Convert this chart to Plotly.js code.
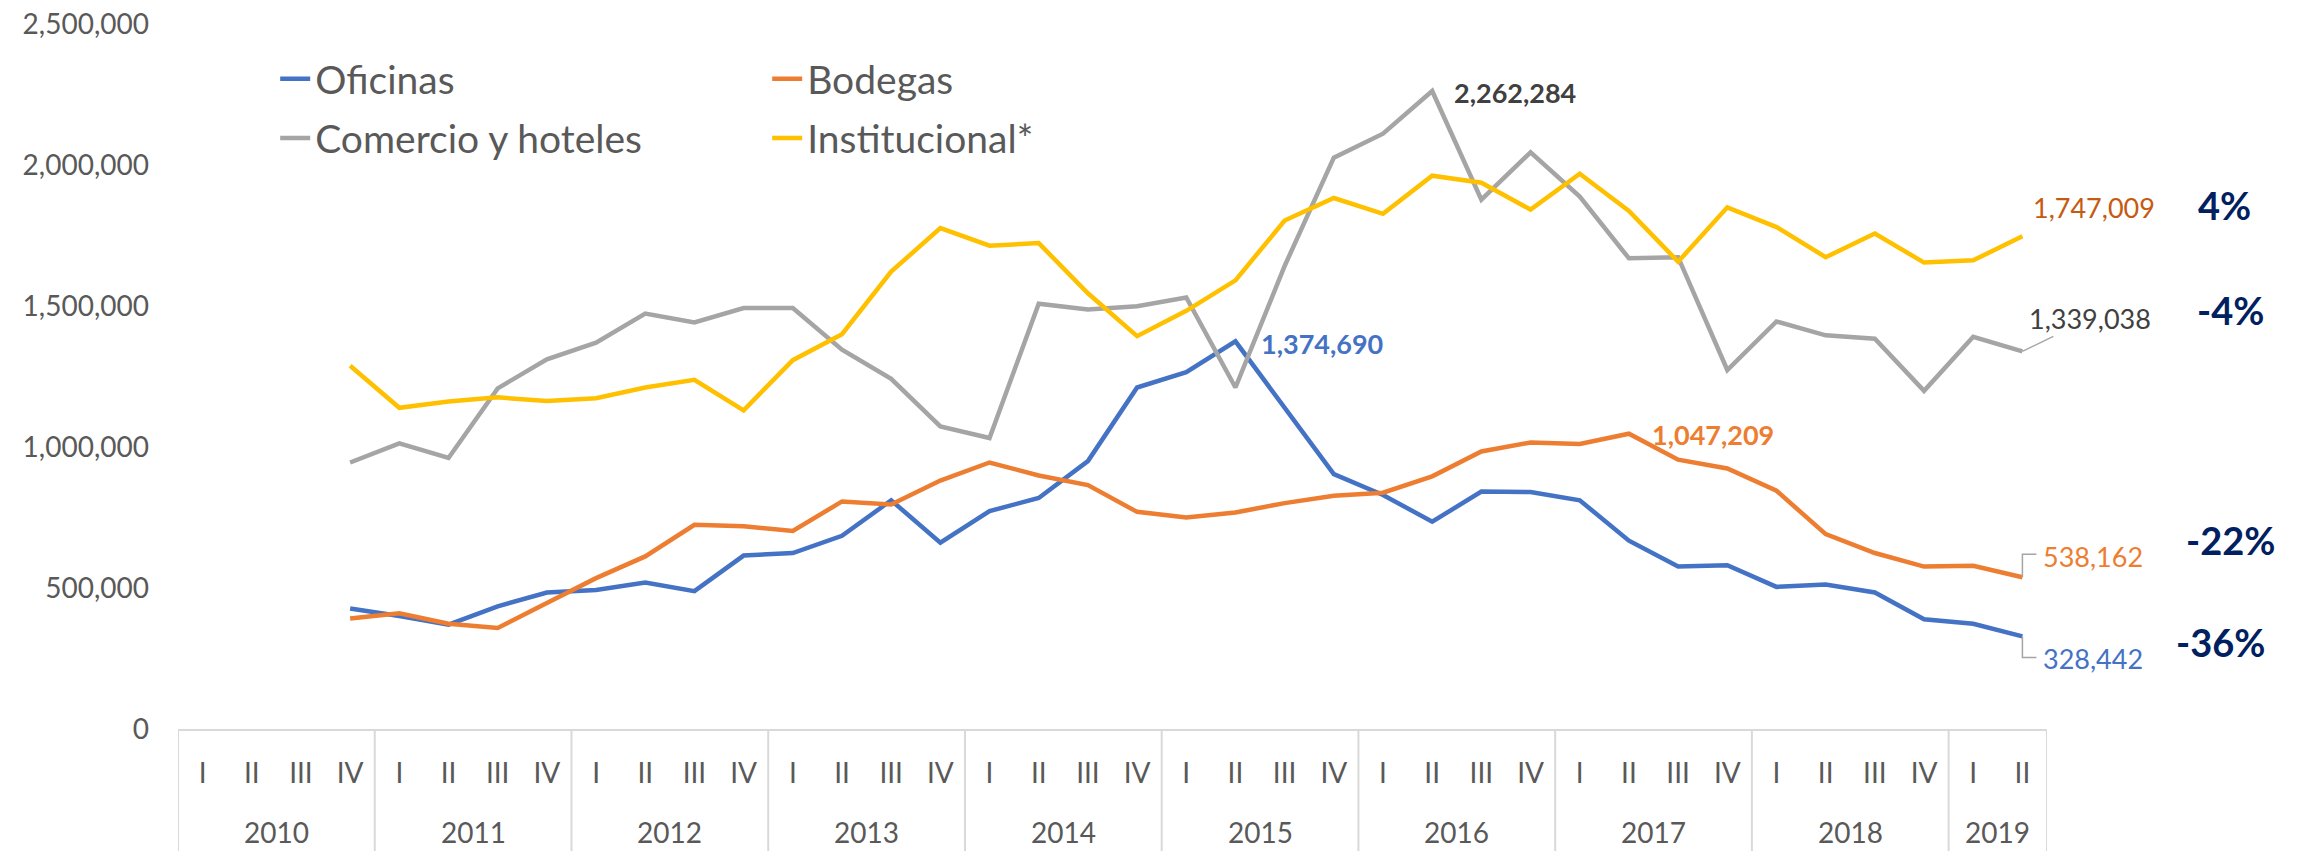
<!DOCTYPE html>
<html>
<head>
<meta charset="utf-8">
<script src="https://cdn.plot.ly/plotly-3.0.1.min.js"></script>
<style>
  html, body { margin: 0; padding: 0; background: #ffffff; }
  #chart { width: 2305px; height: 851px; }
</style>
</head>
<body>
<div id="chart"></div>
<script>
// ---- Data ----
const yearLabels = ['2010','2011','2012','2013','2014','2015','2016','2017','2018','2019'];
const quarterLabels = ['I','II','III','IV'];

const oficinas = [null, null, null, 427000, 401000, 370000, 435000, 484000, 493000, 519000,
  489000, 615000, 624000, 685000, 811000, 661000, 773000, 819000, 950000, 1211000,
  1265000, 1374690, 1142000, 904000, 830000, 735000, 842000, 840000, 811000, 668000,
  576000, 581000, 504000, 512000, 484000, 389000, 373000, 328442];

const bodegas = [null, null, null, 392000, 410000, 373000, 358000, 447000, 535000, 612000,
  724000, 719000, 702000, 807000, 796000, 881000, 945000, 899000, 865000, 770000,
  750000, 768000, 801000, 827000, 838000, 896000, 984000, 1016000, 1011000, 1047209,
  955000, 924000, 845000, 691000, 624000, 576000, 579000, 538162];

const comercio = [null, null, null, 945000, 1013000, 961000, 1208000, 1311000, 1370000, 1473000,
  1442000, 1493000, 1493000, 1345000, 1242000, 1073000, 1032000, 1508000, 1488000, 1499000,
  1530000, 1211000, 1642000, 2026000, 2111000, 2262284, 1877000, 2045000, 1888000, 1669000,
  1673000, 1273000, 1445000, 1396000, 1384000, 1199000, 1391000, 1339038];

const institucional = [null, null, null, 1288000, 1139000, 1161000, 1176000, 1163000, 1173000, 1211000,
  1238000, 1130000, 1308000, 1400000, 1622000, 1776000, 1714000, 1723000, 1545000, 1393000,
  1483000, 1591000, 1803000, 1883000, 1827000, 1962000, 1937000, 1842000, 1969000, 1837000,
  1657000, 1850000, 1780000, 1673000, 1757000, 1654000, 1662000, 1747009];

const seriesNames = ['Oficinas', 'Bodegas', 'Comercio y hoteles', 'Institucional*'];
const pctLabels = ['-36%', '-22%', '-4%', '4%'];   // same order as seriesNames

// ---- Periods: quarter within year ----
const nPeriods = oficinas.length;
const xIdx = [], xYears = [], xQuarters = [];
for (let i = 0; i < nPeriods; i++) {
  xIdx.push(i);
  xYears.push(yearLabels[Math.floor(i / 4)]);
  xQuarters.push(quarterLabels[i % 4]);
}

const FONT = 'Lato, Carlito, "Open Sans", sans-serif';
const colors = ['#4472C4', '#ED7D31', '#A5A5A5', '#FFC000'];
const allSeries = [oficinas, bodegas, comercio, institucional];
const legendOf = ['legend', 'legend', 'legend2', 'legend2'];

const traces = allSeries.map((s, k) => ({
  type: 'scatter',
  mode: 'lines',
  name: seriesNames[k],
  x: xIdx,
  y: s,
  line: { color: colors[k], width: 4.5 },
  legend: legendOf[k],
  hoverinfo: 'skip'
}));

const fmt = v => v.toLocaleString('en-US');
const argMax = s => s.reduce((bi, v, i) => (v !== null && (s[bi] === null || v > s[bi]) ? i : bi), 0);
const last = nPeriods - 1;

const annotations = [];
const shapes = [];

// Year group labels and dividers (second level of the category axis)
const AXIS_GRAY = '#D9D9D9';
let start = 0;
for (let i = 1; i <= nPeriods; i++) {
  if (i === nPeriods || xYears[i] !== xYears[start]) {
    annotations.push({ x: (start + i - 1) / 2, y: -0.146, xref: 'x', yref: 'paper',
      text: xYears[start], showarrow: false, xanchor: 'center', yanchor: 'middle',
      font: { family: FONT, size: 28, color: '#595959' } });
    start = i;
  }
}
for (let i = 0; i <= nPeriods; i++) {
  if (i === 0 || i === nPeriods || xYears[i] !== xYears[i - 1]) {
    shapes.push({ type: 'line', xref: 'x', yref: 'paper', x0: i - 0.5, x1: i - 0.5,
      y0: 0, y1: -0.175, line: { color: AXIS_GRAY, width: 2 } });
  }
}

// Peak labels
const ic = argMax(comercio), io = argMax(oficinas), ib = argMax(bodegas);
annotations.push({ x: ic, y: comercio[ic], xref: 'x', yref: 'y',
  text: fmt(comercio[ic]), showarrow: false, xanchor: 'left', xshift: 20, yshift: -1,
  font: { family: FONT, size: 27, color: '#404040', weight: 'bold' } });
annotations.push({ x: io, y: oficinas[io], xref: 'x', yref: 'y',
  text: fmt(oficinas[io]), showarrow: false, xanchor: 'left', xshift: 24, yshift: -2,
  font: { family: FONT, size: 27, color: '#4472C4', weight: 'bold' } });
annotations.push({ x: ib, y: bodegas[ib], xref: 'x', yref: 'y',
  text: fmt(bodegas[ib]), showarrow: false, xanchor: 'left', xshift: 21, yshift: -1,
  font: { family: FONT, size: 27, color: '#ED7D31', weight: 'bold' } });
// Last-value labels
annotations.push({ x: last, y: institucional[last], xref: 'x', yref: 'y',
  text: fmt(institucional[last]), showarrow: false, xanchor: 'left', xshift: 9, yshift: 29,
  font: { family: FONT, size: 27, color: '#C55A11' } });
annotations.push({ x: last, y: comercio[last], xref: 'x', yref: 'y',
  text: fmt(comercio[last]), showarrow: true, arrowhead: 0, arrowwidth: 1.5, arrowcolor: '#A5A5A5',
  standoff: 0, ax: 68, ay: -33,
  font: { family: FONT, size: 27, color: '#404040' } });
annotations.push({ x: last, y: bodegas[last], xref: 'x', yref: 'y',
  text: fmt(bodegas[last]), showarrow: false, xanchor: 'left', xshift: 19, yshift: 21,
  font: { family: FONT, size: 27, color: '#ED7D31' } });
annotations.push({ x: last, y: oficinas[last], xref: 'x', yref: 'y',
  text: fmt(oficinas[last]), showarrow: false, xanchor: 'left', xshift: 19, yshift: -22,
  font: { family: FONT, size: 27, color: '#4472C4' } });
// Elbow leader lines for the two lowest end labels (pixel offsets from the end point)
shapes.push({ type: 'path', xref: 'x', yref: 'y', xsizemode: 'pixel', ysizemode: 'pixel',
  xanchor: last, yanchor: bodegas[last], path: 'M0,0 L0,23 L14,23',
  line: { color: '#A5A5A5', width: 1.5 } });
shapes.push({ type: 'path', xref: 'x', yref: 'y', xsizemode: 'pixel', ysizemode: 'pixel',
  xanchor: last, yanchor: oficinas[last], path: 'M0,0 L0,-21 L14,-21',
  line: { color: '#A5A5A5', width: 1.5 } });
// Percent change labels
const pctY = [0.123, 0.268, 0.594, 0.743];
const pctX = [1.093, 1.098, 1.098, 1.095];
pctLabels.forEach((t, k) => {
  annotations.push({ x: pctX[k], y: pctY[k], xref: 'paper', yref: 'paper', text: t,
    showarrow: false, xanchor: 'center', yanchor: 'middle',
    font: { family: FONT, size: 38, color: '#002060', weight: 'bold' } });
});

const legendBase = {
  orientation: 'h', xanchor: 'left', yanchor: 'middle', x: 0.052,
  entrywidth: 447, entrywidthmode: 'pixels', bgcolor: 'rgba(0,0,0,0)',
  font: { family: FONT, size: 39, color: '#595959' }, itemclick: false
};

const layout = {
  width: 2305, height: 851,
  margin: { l: 178, r: 258, t: 24, b: 122 },
  paper_bgcolor: '#ffffff', plot_bgcolor: '#ffffff',
  font: { family: FONT, color: '#595959' },
  showlegend: true,
  legend: Object.assign({}, legendBase, { y: 0.922 }),
  legend2: Object.assign({}, legendBase, { y: 0.838 }),
  xaxis: {
    type: 'linear', range: [-0.5, nPeriods - 0.5],
    tickmode: 'array', tickvals: xIdx, ticktext: xQuarters,
    showline: true, linecolor: AXIS_GRAY, linewidth: 2,
    ticks: '', showgrid: false, zeroline: false,
    tickfont: { family: FONT, size: 28, color: '#595959' },
    ticklabelstandoff: 18
  },
  yaxis: {
    range: [0, 2500000], dtick: 500000, tickformat: ',d',
    showgrid: false, zeroline: false, showline: false, ticks: '',
    tickfont: { family: FONT, size: 28, color: '#595959' },
    ticklabelstandoff: 28
  },
  shapes: shapes,
  annotations: annotations
};

Plotly.newPlot('chart', traces, layout, { staticPlot: true, displayModeBar: false });
</script>
</body>
</html>
